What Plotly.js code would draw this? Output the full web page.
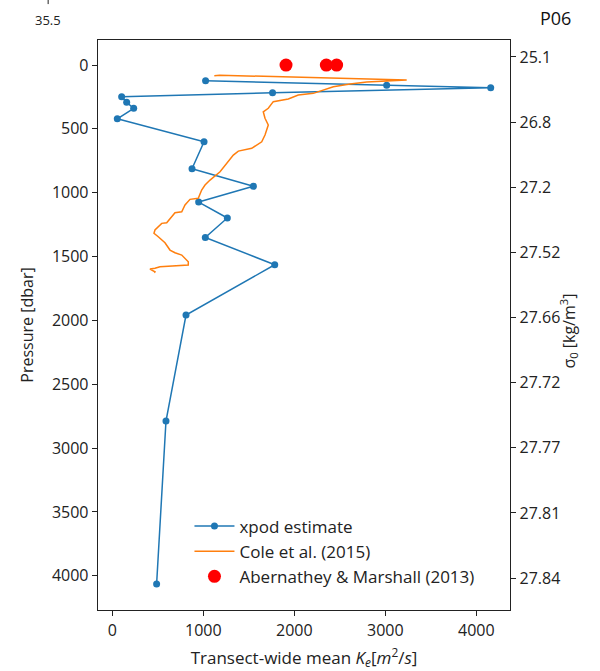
<!DOCTYPE html>
<html>
<head>
<meta charset="utf-8">
<script src="https://cdn.plot.ly/plotly-3.0.1.min.js"></script>
<style>html,body{margin:0;padding:0;background:#fff;}#chart{width:600px;height:671px;}</style>
</head>
<body>
<div id="chart"></div>
<script>
// xpod estimate
const xpodK = [1025, 3015, 4158, 1761, 103, 158, 235, 55, 1008, 876, 1550, 949, 1264, 1022, 1785, 810, 590, 487];
const xpodP = [123, 159, 178, 217, 248, 292, 339, 421, 601, 812, 950, 1073, 1198, 1350, 1564, 1958, 2788, 4065];

// Cole et al. (2015)
const coleK = [1121, 1180, 3235, 2796, 2612, 2429, 2209, 2044, 1934, 1769, 1714, 1659, 1678, 1714, 1678, 1642, 1532, 1385, 1330, 1184, 1074, 1019, 982, 945, 854, 799, 763, 689, 598, 543, 469, 458, 505, 579, 634, 689, 763, 835, 835, 670, 524, 469, 414, 469, 462];
const coleP = [84, 80, 117, 133, 149, 170, 222, 235, 266, 287, 339, 366, 417, 470, 548, 601, 652, 674, 705, 836, 901, 940, 979, 1044, 1052, 1096, 1149, 1157, 1235, 1240, 1292, 1318, 1345, 1392, 1449, 1470, 1488, 1541, 1566, 1574, 1580, 1592, 1598, 1619, 1627];

// Abernathey & Marshall (2013)
const amK = [1909, 2352, 2465];
const amP = [0, 0, 0];

// right axis sigma_0 labels
const sigmaLabels = ['25.1', '26.8', '27.2', '27.52', '27.66', '27.72', '27.77', '27.81', '27.84'];

const xTicks = [0, 1000, 2000, 3000, 4000];
const pTicks = [0, 500, 1000, 1500, 2000, 2500, 3000, 3500, 4000];

const FONT = 'Open Sans, DejaVu Sans, sans-serif';

const traces = [
  {x: xpodK, y: xpodP, mode: 'lines+markers', name: 'xpod estimate',
   line: {color: '#1f77b4', width: 1.5}, marker: {color: '#1f77b4', size: 7}},
  {x: coleK, y: coleP, mode: 'lines', name: 'Cole et al. (2015)',
   line: {color: '#ff7f0e', width: 1.5}},
  {x: amK, y: amP, mode: 'markers', name: 'Abernathey & Marshall (2013)',
   marker: {color: 'red', size: 13}},
  {x: [null], y: [null], yaxis: 'y2', showlegend: false, hoverinfo: 'skip'}
];

const sigmaIdx = sigmaLabels.map((_, i) => i);

const layout = {
  width: 600, height: 671,
  margin: {l: 98, r: 90, t: 40, b: 61},
  paper_bgcolor: '#fff', plot_bgcolor: '#fff',
  font: {family: FONT, size: 16, color: '#222'},
  showlegend: true,
  legend: {x: 0.222, y: 0.178, xanchor: 'left', yanchor: 'top', bgcolor: 'rgba(255,255,255,0)',
           font: {size: 17}, tracegroupgap: 0, itemwidth: 40},
  xaxis: {range: [-157, 4370], tickvals: xTicks, ticks: 'outside', ticklen: 5, tickcolor: '#222',
          tickfont: {size: 16},
          showline: true, linecolor: '#222', linewidth: 1.3, mirror: true, showgrid: false, zeroline: false,
          title: {text: 'Transect-wide mean <i>K</i><sub><i>e</i></sub>[<i>m</i><sup>2</sup>/<i>s</i>]', font: {size: 17}, standoff: 12}},
  yaxis: {range: [4268, -196], tickvals: pTicks, ticks: 'outside', ticklen: 5, tickcolor: '#222',
          tickfont: {size: 16},
          showline: true, linecolor: '#222', linewidth: 1.3, mirror: true, showgrid: false, zeroline: false,
          title: {text: 'Pressure [dbar]', font: {size: 16}, standoff: 14}},
  yaxis2: {overlaying: 'y', side: 'right', range: [8.49, -0.26], tickvals: sigmaIdx, ticktext: sigmaLabels,
           ticks: 'outside', ticklen: 5, tickcolor: '#222', showline: true, linecolor: '#222', linewidth: 1.3,
           tickfont: {size: 16},
           showgrid: false, zeroline: false},
  annotations: [
    {text: 'P06', xref: 'paper', yref: 'paper', x: 1.11, y: 1.039, xanchor: 'center', yanchor: 'middle',
     showarrow: false, font: {size: 18, color: '#111'}},
    {text: '35.5', xref: 'paper', yref: 'paper', x: -0.121, y: 1.016, xanchor: 'center', yanchor: 'bottom',
     showarrow: false, font: {size: 13, color: '#222'}},
    {text: 'σ<sub>0</sub> [kg/m<sup>3</sup>]', xref: 'paper', yref: 'paper', x: 1.143, y: 0.49,
     xanchor: 'center', yanchor: 'middle', textangle: -90, showarrow: false, font: {size: 16, color: '#222'}}
  ],
  shapes: [
    {type: 'line', xref: 'paper', yref: 'paper', x0: -0.121, x1: -0.121, y0: 1.063, y1: 1.072,
     line: {color: '#222', width: 1}}
  ]
};

Plotly.newPlot('chart', traces, layout, {displayModeBar: false, staticPlot: true});
</script>
</body>
</html>
